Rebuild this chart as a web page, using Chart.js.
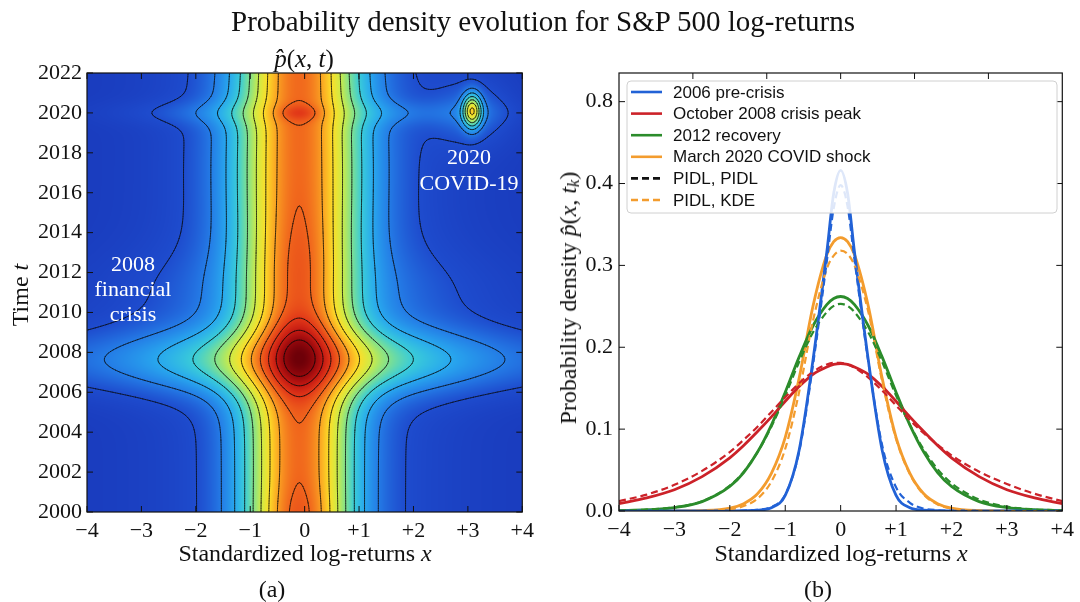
<!DOCTYPE html>
<html>
<head>
<meta charset="utf-8">
<script src="https://cdn.jsdelivr.net/npm/chart.js@4.4.1/dist/chart.umd.min.js"></script>
<style>
  html, body { margin: 0; padding: 0; background: #fff; }
  #page { position: relative; width: 1080px; height: 602px; overflow: hidden;
          font-family: 'Liberation Serif', 'Times New Roman', serif; color: #111; }
  #page canvas { position: absolute; top: 0; }
  .txt { position: absolute; white-space: nowrap; transform: translate(-50%, -50%); line-height: 1; }
  .rot { transform: translate(-50%, -50%) rotate(-90deg); }
  .note { color: #fff; text-align: center; font-size: 22px; }
  sub { font-size: 70%; vertical-align: -0.2em; line-height: 0; }
</style>
</head>
<body>
<div id="page">
  <canvas id="heatChart" width="540" height="602" style="left:0"></canvas>
  <canvas id="curveChart" width="540" height="602" style="left:540px"></canvas>

  <div class="txt" style="left:543px;top:21px;font-size:29px">Probability density evolution for S&amp;P 500 log-returns</div>
  <div class="txt" style="left:304px;top:58px;font-size:25px"><i>p&#770;</i>(<i>x</i>, <i>t</i>)</div>

  <div class="txt note" style="left:133px;top:288px;line-height:25px">2008<br>financial<br>crisis</div>
  <div class="txt note" style="left:469px;top:170px;line-height:26px">2020<br>COVID-19</div>

  <div class="txt" style="left:305px;top:553px;font-size:24px">Standardized log-returns <i>x</i></div>
  <div class="txt" style="left:841px;top:553px;font-size:24px">Standardized log-returns <i>x</i></div>
  <div class="txt" style="left:272px;top:589px;font-size:24px">(a)</div>
  <div class="txt" style="left:818px;top:589px;font-size:24px">(b)</div>
  <div class="txt rot" style="left:20px;top:295px;font-size:24px">Time <i>t</i></div>
  <div class="txt rot" style="left:568px;top:298px;font-size:24px">Probability density <i>p&#770;</i>(<i>x</i>, <i>t<sub>k</sub></i>)</div>
</div>

<script>
// ---------- panel (a): density field, read off the picture as a sum of bumps ----------
// each bump: centre in x and in years, height, spread in x, spread in years (Infinity = all years)
const blobX    = [-0.1, 0,   -0.1,   0,      -0.1,   -0.1,   0,    0,    -0.1, -0.1, -0.1,  0,     0,      -0.1,  3.1,  3.08];
const blobYear = [0,    0,   1999.8, 2007.6, 2007.6, 2007.8, 2011, 2011, 2012, 2017, 2017,  2020,  2020,   2020,  2020, 2020.1];
const blobAmp  = [0.585, 0.10, 0.03, 0.34,  -0.15,   0.13,   0.07, -0.07, 0.03, 0.15, -0.15,  0.105, -0.105, 0.082, 0.10, 0.40];
const blobSx   = [0.72, 1.9,  0.4,   3.0,    0.72,   0.3,    2.6,  0.9,  0.45, 1.05, 0.6,   2.0,   0.9,    0.25,  0.5,  0.12];
const blobSt   = [Infinity, Infinity, 1.0, 1.2, 1.2, 1.1,    1.6,  1.6,  2.0,  5.0,  5.0,   0.45,  0.45,   0.28,  1.2,  0.6];
const blobKind = ['g', 'g', 'g', 'l', 'g', 'g', 'g', 'g', 'g', 'g', 'g', 'g', 'g', 'g', 'g', 'g'];
const contourLevels = [1, 2, 3, 4, 5, 6, 7, 8, 9, 10, 11, 12].map(k => k / 13);

// ---------- panel (b): density curves at selected dates ----------
const curveX = [-4, -3.5, -3, -2.5, -2, -1.75, -1.5, -1.25, -1, -0.75, -0.5, -0.25, -0.125, 0,
                0.125, 0.25, 0.5, 0.75, 1, 1.25, 1.5, 1.75, 2, 2.5, 3, 3.5, 4];
const preCrisis2006 = [0, 0, 0, 0, 0, 0.0003, 0.001, 0.004, 0.019, 0.074, 0.184, 0.316, 0.388, 0.416,
                       0.388, 0.316, 0.184, 0.074, 0.019, 0.004, 0.001, 0.0003, 0, 0, 0, 0, 0];
const pidl2006 = [0, 0, 0, 0, 0, 0.0005, 0.0015, 0.005, 0.020, 0.072, 0.178, 0.305, 0.370, 0.398,
                  0.372, 0.307, 0.182, 0.080, 0.029, 0.010, 0.003, 0.001, 0.0003, 0, 0, 0, 0];
const crisis2008 = [0.009, 0.016, 0.026, 0.042, 0.065, 0.080, 0.097, 0.115, 0.134, 0.152, 0.167, 0.176, 0.179, 0.180,
                    0.179, 0.176, 0.167, 0.152, 0.134, 0.115, 0.097, 0.080, 0.065, 0.042, 0.026, 0.016, 0.009];
const pidl2008 = [0.012, 0.020, 0.032, 0.049, 0.072, 0.087, 0.103, 0.121, 0.139, 0.156, 0.170, 0.179, 0.181, 0.181,
                  0.179, 0.175, 0.163, 0.147, 0.129, 0.111, 0.095, 0.081, 0.068, 0.048, 0.033, 0.021, 0.012];
const recovery2012 = [0.0005, 0.0015, 0.0042, 0.0115, 0.030, 0.047, 0.072, 0.105, 0.145, 0.188, 0.226, 0.252, 0.2595, 0.262,
                      0.2595, 0.252, 0.226, 0.188, 0.145, 0.105, 0.072, 0.047, 0.030, 0.0115, 0.0042, 0.0015, 0.0005];
const pidl2012 = [0.0005, 0.0016, 0.0045, 0.012, 0.031, 0.048, 0.072, 0.103, 0.141, 0.182, 0.218, 0.243, 0.2505, 0.253,
                  0.2505, 0.243, 0.218, 0.182, 0.141, 0.105, 0.075, 0.051, 0.034, 0.014, 0.0053, 0.002, 0.0007];
const covid2020 = [0, 0, 0, 0.0005, 0.0035, 0.009, 0.021, 0.046, 0.090, 0.162, 0.250, 0.313, 0.329, 0.334,
                   0.329, 0.313, 0.250, 0.162, 0.090, 0.046, 0.021, 0.009, 0.0035, 0.0005, 0, 0, 0];
const kde2020 = [0, 0, 0, 0.0003, 0.002, 0.006, 0.015, 0.036, 0.076, 0.145, 0.232, 0.296, 0.312, 0.318,
                 0.314, 0.300, 0.243, 0.158, 0.088, 0.045, 0.020, 0.008, 0.003, 0.0004, 0, 0, 0];

const xTickLabels = ['\u22124', '\u22123', '\u22122', '\u22121', '0', '+1', '+2', '+3', '+4'];
const densityTickLabels = ['0.0', '0.1', '0.2', '0.3', '0.4', '0.8'];
const legendLabels = ['2006 pre-crisis', 'October 2008 crisis peak', '2012 recovery',
                      'March 2020 COVID shock', 'PIDL, PIDL', 'PIDL, KDE'];

Chart.defaults.font.family = "'Liberation Serif', 'Times New Roman', serif";
Chart.defaults.font.size = 22;
Chart.defaults.color = '#111';

function fieldAt(x, t) {
  let v = 0;
  for (let i = 0; i < blobAmp.length; i++) {
    const dx = (x - blobX[i]) / blobSx[i];
    const dt = blobSt[i] === Infinity ? 0 : (t - blobYear[i]) / blobSt[i];
    const fx = blobKind[i] === 'l' ? 1 / (1 + dx * dx) : Math.exp(-0.5 * dx * dx);
    v += blobAmp[i] * fx * Math.exp(-0.5 * dt * dt);
  }
  return v;
}

// colour ramp (blue -> cyan -> yellow -> red -> dark red)
const rampStops = [
  [0.00, 25, 58, 188], [0.077, 30, 76, 206], [0.154, 36, 124, 230], [0.231, 40, 168, 238],
  [0.308, 58, 204, 216], [0.385, 128, 225, 142], [0.462, 204, 235, 72], [0.538, 252, 222, 40],
  [0.615, 250, 160, 34], [0.692, 240, 100, 28], [0.769, 225, 55, 24], [0.846, 195, 25, 18],
  [0.923, 150, 8, 12], [1.00, 110, 0, 8]
];
function colorAt(v) {
  if (v <= 0) return rampStops[0].slice(1);
  for (let i = 1; i < rampStops.length; i++) {
    const s1 = rampStops[i];
    if (v <= s1[0]) {
      const s0 = rampStops[i - 1];
      const f = (v - s0[0]) / (s1[0] - s0[0]);
      return [s0[1] + f * (s1[1] - s0[1]), s0[2] + f * (s1[2] - s0[2]), s0[3] + f * (s1[3] - s0[3])];
    }
  }
  return rampStops[rampStops.length - 1].slice(1);
}

// marching squares lookup: corner bits a=1 b=2 c=4 d=8, edges 0 bottom 1 right 2 top 3 left
const squareCases = {1: [[0, 3]], 2: [[0, 1]], 3: [[3, 1]], 4: [[1, 2]], 5: [[0, 1], [2, 3]], 6: [[0, 2]],
  7: [[2, 3]], 8: [[2, 3]], 9: [[0, 2]], 10: [[0, 3], [1, 2]], 11: [[1, 2]], 12: [[3, 1]], 13: [[0, 1]], 14: [[0, 3]]};

const heatPlugin = {
  id: 'heat',
  beforeDatasetsDraw(chart) {
    const { ctx, chartArea: a, scales: { x, y } } = chart;
    const w = Math.round(a.right - a.left), h = Math.round(a.bottom - a.top);
    const img = ctx.createImageData(w, h);
    for (let j = 0; j < h; j++) {
      const t = y.getValueForPixel(a.top + j + 0.5);
      for (let i = 0; i < w; i++) {
        const c = colorAt(fieldAt(x.getValueForPixel(a.left + i + 0.5), t));
        const k = (j * w + i) * 4;
        img.data[k] = c[0]; img.data[k + 1] = c[1]; img.data[k + 2] = c[2]; img.data[k + 3] = 255;
      }
    }
    ctx.putImageData(img, Math.round(a.left), Math.round(a.top));

    // contour lines
    const NX = 260, NT = 260;
    const gx = [], gt = [], grid = [];
    for (let i = 0; i <= NX; i++) gx.push(x.min + (x.max - x.min) * i / NX);
    for (let j = 0; j <= NT; j++) gt.push(y.min + (y.max - y.min) * j / NT);
    for (let j = 0; j <= NT; j++) grid.push(gx.map(xv => fieldAt(xv, gt[j])));

    ctx.save();
    ctx.beginPath();
    ctx.rect(a.left, a.top, a.right - a.left, a.bottom - a.top);
    ctx.clip();
    ctx.strokeStyle = 'rgba(10,10,10,0.7)';
    ctx.lineWidth = 0.9;
    ctx.lineCap = 'round';
    ctx.beginPath();
    contourLevels.forEach(L => {
      for (let j = 0; j < NT; j++) {
        for (let i = 0; i < NX; i++) {
          const va = grid[j][i], vb = grid[j][i + 1], vc = grid[j + 1][i + 1], vd = grid[j + 1][i];
          const idx = (va > L ? 1 : 0) | (vb > L ? 2 : 0) | (vc > L ? 4 : 0) | (vd > L ? 8 : 0);
          const segs = squareCases[idx];
          if (!segs) continue;
          const edge = e => {
            let px, pt;
            if (e === 0) { px = gx[i] + (L - va) / (vb - va) * (gx[i + 1] - gx[i]); pt = gt[j]; }
            else if (e === 1) { px = gx[i + 1]; pt = gt[j] + (L - vb) / (vc - vb) * (gt[j + 1] - gt[j]); }
            else if (e === 2) { px = gx[i] + (L - vd) / (vc - vd) * (gx[i + 1] - gx[i]); pt = gt[j + 1]; }
            else { px = gx[i]; pt = gt[j] + (L - va) / (vd - va) * (gt[j + 1] - gt[j]); }
            return [x.getPixelForValue(px), y.getPixelForValue(pt)];
          };
          segs.forEach(s => {
            const p = edge(s[0]), q = edge(s[1]);
            ctx.moveTo(p[0], p[1]);
            ctx.lineTo(q[0], q[1]);
          });
        }
      }
    });
    ctx.stroke();
    ctx.restore();
  }
};

// box round the plot and inward tick marks on all four sides
function framePlugin(topTicks) {
  return {
    id: 'frame',
    afterDraw(chart) {
      const { ctx, chartArea: a, scales: { x, y } } = chart;
      ctx.save();
      ctx.strokeStyle = '#111';
      ctx.lineWidth = 1.2;
      ctx.strokeRect(a.left, a.top, a.right - a.left, a.bottom - a.top);
      ctx.lineWidth = 1;
      ctx.beginPath();
      x.ticks.forEach(t => {
        const px = x.getPixelForValue(t.value);
        ctx.moveTo(px, a.bottom); ctx.lineTo(px, a.bottom - 6);
      });
      (topTicks || x.ticks.map(t => t.value)).forEach(v => {
        const px = x.getPixelForValue(v);
        ctx.moveTo(px, a.top); ctx.lineTo(px, a.top + 6);
      });
      y.ticks.forEach(t => {
        const py = y.getPixelForValue(t.value);
        ctx.moveTo(a.left, py); ctx.lineTo(a.left + 6, py);
        ctx.moveTo(a.right, py); ctx.lineTo(a.right - 6, py);
      });
      ctx.stroke();
      ctx.restore();
    }
  };
}

new Chart(document.getElementById('heatChart'), {
  type: 'scatter',
  data: { datasets: [] },
  options: {
    responsive: false,
    animation: false,
    layout: { padding: { left: 0, top: 73, right: 17, bottom: 0 } },
    plugins: { legend: { display: false }, tooltip: { enabled: false } },
    scales: {
      x: {
        type: 'linear', min: -4, max: 4,
        grid: { display: false, drawTicks: false }, border: { display: false },
        ticks: { stepSize: 1, padding: 6, maxRotation: 0, autoSkip: false,
                 callback: v => xTickLabels[Math.round(v) + 4] },
        afterFit: s => { s.height = 90; }
      },
      y: {
        type: 'linear', min: 2000, max: 2022,
        grid: { display: false, drawTicks: false }, border: { display: false },
        ticks: { stepSize: 2, padding: 5, autoSkip: false, callback: v => String(v) },
        afterFit: s => { s.width = 87; }
      }
    }
  },
  plugins: [heatPlugin, framePlugin(null)]
});

// ---------- panel (b) ----------
const blue = '#2262d6', red = '#cc2229', green = '#2b8c2b', orange = '#f39c2e';
const seriesList = [
  { data: preCrisis2006, color: blue, dashed: false },
  { data: crisis2008, color: red, dashed: false },
  { data: recovery2012, color: green, dashed: false },
  { data: covid2020, color: orange, dashed: false },
  { data: pidl2006, color: blue, dashed: true },
  { data: pidl2008, color: red, dashed: true },
  { data: pidl2012, color: green, dashed: true },
  { data: kde2020, color: orange, dashed: true }
];
const legendStyles = [
  { color: blue, dashed: false }, { color: red, dashed: false }, { color: green, dashed: false },
  { color: orange, dashed: false }, { color: '#111', dashed: true }, { color: orange, dashed: true }
];

const legendPlugin = {
  id: 'boxLegend',
  afterDraw(chart) {
    const { ctx, chartArea: a } = chart;
    const bx = a.left + 8, by = a.top + 8, bw = 430, bh = 132, r = 4;
    ctx.save();
    ctx.beginPath();
    ctx.moveTo(bx + r, by);
    ctx.arcTo(bx + bw, by, bx + bw, by + bh, r);
    ctx.arcTo(bx + bw, by + bh, bx, by + bh, r);
    ctx.arcTo(bx, by + bh, bx, by, r);
    ctx.arcTo(bx, by, bx + bw, by, r);
    ctx.closePath();
    ctx.fillStyle = 'rgba(255,255,255,0.85)';
    ctx.fill();
    ctx.strokeStyle = '#d0d0d0';
    ctx.lineWidth = 1;
    ctx.stroke();
    ctx.font = "17px 'Liberation Sans', Arial, sans-serif";
    ctx.textBaseline = 'middle';
    legendLabels.forEach((label, i) => {
      const yy = by + 11 + i * 21.6;
      ctx.beginPath();
      ctx.strokeStyle = legendStyles[i].color;
      ctx.lineWidth = 2.6;
      ctx.setLineDash(legendStyles[i].dashed ? [7, 4] : []);
      ctx.moveTo(bx + 4, yy);
      ctx.lineTo(bx + 35, yy);
      ctx.stroke();
      ctx.setLineDash([]);
      ctx.fillStyle = '#111';
      ctx.fillText(label, bx + 46, yy + 1);
    });
    ctx.restore();
  }
};

new Chart(document.getElementById('curveChart'), {
  type: 'line',
  data: {
    datasets: seriesList.map(s => ({
      data: curveX.map((xv, i) => ({ x: xv, y: s.data[i] })),
      borderColor: s.color,
      borderWidth: s.dashed ? 2.2 : 2.8,
      borderDash: s.dashed ? [7, 4] : [],
      pointRadius: 0,
      fill: false,
      cubicInterpolationMode: 'monotone',
      order: s.dashed ? 1 : 2
    }))
  },
  options: {
    responsive: false,
    animation: false,
    layout: { padding: { left: 0, top: 73, right: 17, bottom: 0 } },
    plugins: { legend: { display: false }, tooltip: { enabled: false } },
    scales: {
      x: {
        type: 'linear', min: -4, max: 4,
        grid: { display: false, drawTicks: false }, border: { display: false },
        ticks: { stepSize: 1, padding: 6, maxRotation: 0, autoSkip: false,
                 callback: v => xTickLabels[Math.round(v) + 4] },
        afterFit: s => { s.height = 91; }
      },
      y: {
        type: 'linear', min: 0, max: 0.535,
        grid: { display: false, drawTicks: false }, border: { display: false },
        ticks: { stepSize: 0.1, padding: 6, includeBounds: false, autoSkip: false,
                 callback: v => densityTickLabels[Math.round(v * 10)] },
        afterFit: s => { s.width = 79; }
      }
    }
  },
  plugins: [framePlugin([-8 / 3, -4 / 3, 0, 4 / 3, 8 / 3]), legendPlugin]
});
</script>
</body>
</html>
